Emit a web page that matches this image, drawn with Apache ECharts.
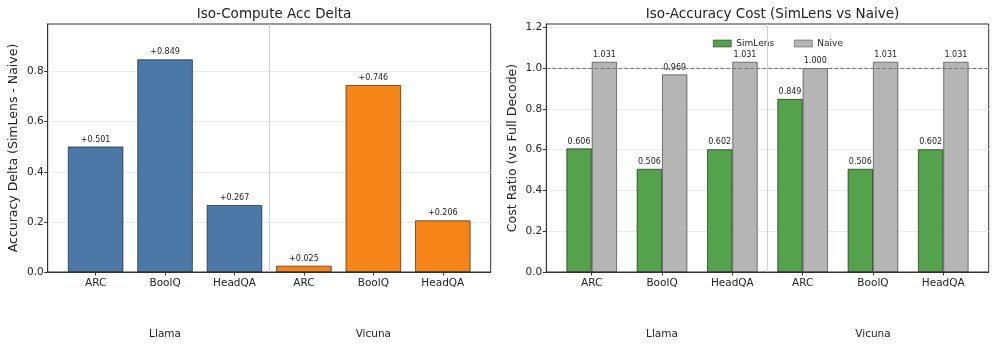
<!DOCTYPE html>
<html>
<head>
<meta charset="utf-8">
<script src="https://cdn.jsdelivr.net/npm/echarts@6/dist/echarts.min.js"></script>
<style>
  html, body { margin: 0; padding: 0; background: #fff; }
  #chart { width: 997px; height: 347px; }
</style>
</head>
<body>
<div id="chart"></div>
<script>
// data
const tasks = ['ARC', 'BoolQ', 'HeadQA', 'ARC', 'BoolQ', 'HeadQA'];
const models = ['Llama', 'Vicuna'];
const modelPos = [1, 4];
const accDelta = [0.501, 0.849, 0.267, 0.025, 0.746, 0.206];
const simlensCost = [0.606, 0.506, 0.602, 0.849, 0.506, 0.602];
const naiveCost = [1.031, 0.969, 1.031, 1.000, 1.031, 1.031];
const leftTicks = [0, 0.2, 0.4, 0.6, 0.8];
const rightTicks = [0, 0.2, 0.4, 0.6, 0.8, 1.0, 1.2];

const FONT = 'DejaVu Sans';
const TXT = '#222';
const catIdx = tasks.map((t, i) => i);

const chart = echarts.init(document.getElementById('chart'));

function xAxes(gridIndex, min, max) {
  return [
    {
      type: 'value', gridIndex: gridIndex, min: min, max: max,
      splitLine: { show: false },
      axisLine: { show: true, onZero: false, lineStyle: { color: '#333', width: 1 } },
      axisTick: { show: true, length: 3.5, customValues: catIdx, lineStyle: { color: '#333' } },
      axisLabel: {
        customValues: catIdx, margin: 5.5, color: TXT, fontFamily: FONT, fontSize: 10.5,
        formatter: (v) => tasks[Math.round(v)]
      }
    },
    {
      type: 'value', gridIndex: gridIndex, min: min, max: max, position: 'bottom',
      splitLine: { show: false },
      axisLine: { show: false, onZero: false },
      axisTick: { show: false },
      axisLabel: {
        customValues: modelPos, margin: 56.5, color: TXT, fontFamily: FONT, fontSize: 10.5,
        formatter: (v) => models[modelPos.indexOf(Math.round(v))]
      }
    }
  ];
}

function yAxis(gridIndex, max, ticks, name) {
  return {
    type: 'value', gridIndex: gridIndex, min: 0, max: max, interval: 0.2,
    name: name, nameLocation: 'middle', nameGap: 27,
    nameTextStyle: { color: TXT, fontFamily: FONT, fontSize: 12.5 },
    axisLine: { show: true, onZero: false, lineStyle: { color: '#333', width: 1 } },
    axisTick: { show: true, length: 3.5, customValues: ticks, lineStyle: { color: '#333' } },
    axisLabel: {
      customValues: ticks, margin: 4, color: TXT, fontFamily: FONT, fontSize: 10.5,
      formatter: (v) => v.toFixed(1)
    },
    splitLine: { show: true, lineStyle: { color: '#ebebeb', width: 1 } }
  };
}

const labelStyle = { show: true, position: 'top', distance: 3, color: TXT, fontFamily: FONT, fontSize: 8 };

chart.setOption({
  animation: false,
  backgroundColor: '#fff',
  title: [
    { text: 'Iso-Compute Acc Delta', left: 269, top: 2, textAlign: 'center',
      textStyle: { color: TXT, fontFamily: FONT, fontSize: 13.5, fontWeight: 'normal' } },
    { text: 'Iso-Accuracy Cost (SimLens vs Naive)', left: 767.5, top: 2, textAlign: 'center',
      textStyle: { color: TXT, fontFamily: FONT, fontSize: 13.5, fontWeight: 'normal' } }
  ],
  legend: {
    data: ['SimLens', 'Naive'],
    left: 708, top: 34,
    icon: 'rect', itemWidth: 18, itemHeight: 7, itemGap: 20,
    itemStyle: { borderWidth: 0.6 },
    textStyle: { color: TXT, fontFamily: FONT, fontSize: 9 }
  },
  grid: [
    { left: 47.7, right: 506.3, top: 24, bottom: 75, show: true, borderColor: '#333', borderWidth: 1 },
    { left: 546.3, right: 8.3, top: 24, bottom: 75, show: true, borderColor: '#333', borderWidth: 1 }
  ],
  xAxis: xAxes(0, -0.69, 5.69).concat(xAxes(1, -0.646, 5.646)),
  yAxis: [
    yAxis(0, 0.99, leftTicks, 'Accuracy Delta (SimLens - Naive)'),
    yAxis(1, 1.2165, rightTicks, 'Cost Ratio (vs Full Decode)')
  ],
  series: [
    {
      type: 'bar', xAxisIndex: 0, yAxisIndex: 0, barWidth: 55.5,
      data: accDelta.map((v, i) => [i, v]),
      itemStyle: {
        color: (p) => (p.dataIndex < 3 ? '#4c78a8' : '#f58518'),
        borderColor: 'rgba(0,0,0,0.7)', borderWidth: 0.8
      },
      label: Object.assign({}, labelStyle, { formatter: (p) => '+' + p.value[1].toFixed(3) }),
      markLine: {
        silent: true, symbol: 'none', label: { show: false },
        lineStyle: { color: '#d0d0d0', type: 'solid', width: 1 },
        data: [{ xAxis: 2.5 }]
      }
    },
    {
      name: 'SimLens', type: 'bar', xAxisIndex: 2, yAxisIndex: 1, barWidth: 25.3, barGap: '-100%',
      data: simlensCost.map((v, i) => [i - 0.18, v]),
      itemStyle: { color: '#54a24b', borderColor: 'rgba(0,0,0,0.7)', borderWidth: 0.8 },
      label: Object.assign({}, labelStyle, { formatter: (p) => p.value[1].toFixed(3) }),
      markLine: {
        silent: true, symbol: 'none', label: { show: false },
        lineStyle: { color: '#d0d0d0', type: 'solid', width: 1 },
        data: [{ xAxis: 2.5 }]
      }
    },
    {
      name: 'Naive', type: 'bar', xAxisIndex: 2, yAxisIndex: 1, barWidth: 25.3, barGap: '-100%',
      data: naiveCost.map((v, i) => [i + 0.18, v]),
      itemStyle: { color: '#b5b5b5', borderColor: 'rgba(0,0,0,0.6)', borderWidth: 0.8 },
      label: Object.assign({}, labelStyle, { formatter: (p) => p.value[1].toFixed(3) }),
      markLine: {
        silent: true, symbol: 'none', label: { show: false },
        lineStyle: { color: '#777', type: [4, 2], width: 1 },
        data: [{ yAxis: 1.0 }]
      }
    }
  ]
});
</script>
</body>
</html>
